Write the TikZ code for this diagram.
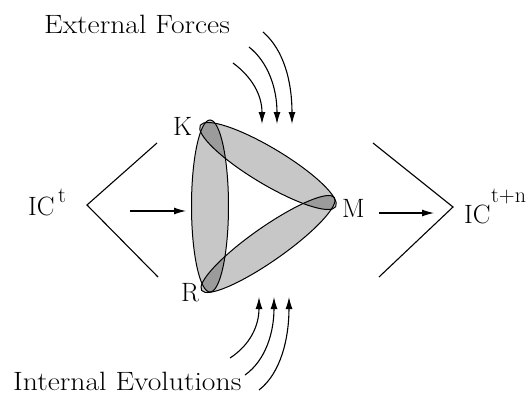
\documentclass[tikz,border=0pt]{standalone}
\usepackage{fontspec}
\setmainfont{Latin Modern Roman}
\usepackage{graphicx}
\usetikzlibrary{arrows.meta}
\begin{document}
\begin{tikzpicture}[x=1pt,y=-1pt,
  lbl/.style={font=\fontsize{26.5}{30}\selectfont, inner sep=0pt, anchor=base west},
  suplbl/.style={font=\fontsize{22}{26}\selectfont, inner sep=0pt, anchor=base west},
  thin line/.style={line width=1.1pt},
  arr/.style={line width=1.1pt, -{Latex[length=12pt,width=7pt]}},
  band/.style={draw=black, line width=1pt, fill=black, fill opacity=0.22},
]
\useasboundingbox[fill=white] (0,0) rectangle (531,394);

% bands of the triangle
\path[band] (210,206) ellipse [x radius=18.5pt, y radius=86pt];
\path[band, rotate around={-31:(268,166)}] (268,166) ellipse [x radius=79pt, y radius=18pt];
\path[band, rotate around={35:(268,244)}] (268,244) ellipse [x radius=81pt, y radius=17pt];

% labels
\node[lbl] (ext) at (44,33) {\scalebox{1.12}[1]{External Forces}};
\node[lbl] (int) at (13,390) {\scalebox{1.12}[1]{Internal Evolutions}};
\node[lbl] (ict) at (28,215) {IC};
\node[suplbl] (icts) at (58,202) {t};
\node[lbl] (ictn) at (464,223) {IC};
\node[suplbl] (ictns) at (491,202) {t+n};
\node[lbl] (K) at (173,135) {K};
\node[lbl] (R) at (181,301) {R};
\node[lbl] (M) at (342,217) {M};

% brackets
\coordinate (lb1) at (157,143);
\coordinate (lb2) at (87,205);
\coordinate (lb3) at (158,277);
\coordinate (rb1) at (373,143);
\coordinate (rb2) at (453,207);
\coordinate (rb3) at (379,277);
\draw[thin line] (lb1) -- (lb2) -- (lb3);
\draw[thin line] (rb1) -- (rb2) -- (rb3);

% horizontal arrows
\coordinate (la1) at (130,211);
\coordinate (la2) at (186,211);
\coordinate (ra1) at (379,213);
\coordinate (ra2) at (434,213);
\draw[arr] (la1) -- (la2);
\draw[arr] (ra1) -- (ra2);

% external forces arrows
\coordinate (ts1) at (233,63);  \coordinate (te1) at (262,124);
\coordinate (ts2) at (249,47);  \coordinate (te2) at (277,124);
\coordinate (ts3) at (263,32);  \coordinate (te3) at (292,124);
\draw[arr] (ts1) .. controls (252,77) and (262,95) .. (te1);
\draw[arr] (ts2) .. controls (268,62) and (277,88) .. (te2);
\draw[arr] (ts3) .. controls (284,50) and (292,82) .. (te3);

% internal evolutions arrows
\coordinate (bs1) at (230,358); \coordinate (be1) at (259,297);
\coordinate (bs2) at (245,375); \coordinate (be2) at (274,297);
\coordinate (bs3) at (259,390); \coordinate (be3) at (289,297);
\draw[arr] (bs1) .. controls (250,345) and (259,326) .. (be1);
\draw[arr] (bs2) .. controls (266,360) and (274,332) .. (be2);
\draw[arr] (bs3) .. controls (281,373) and (289,338) .. (be3);
\end{tikzpicture}
\end{document}
